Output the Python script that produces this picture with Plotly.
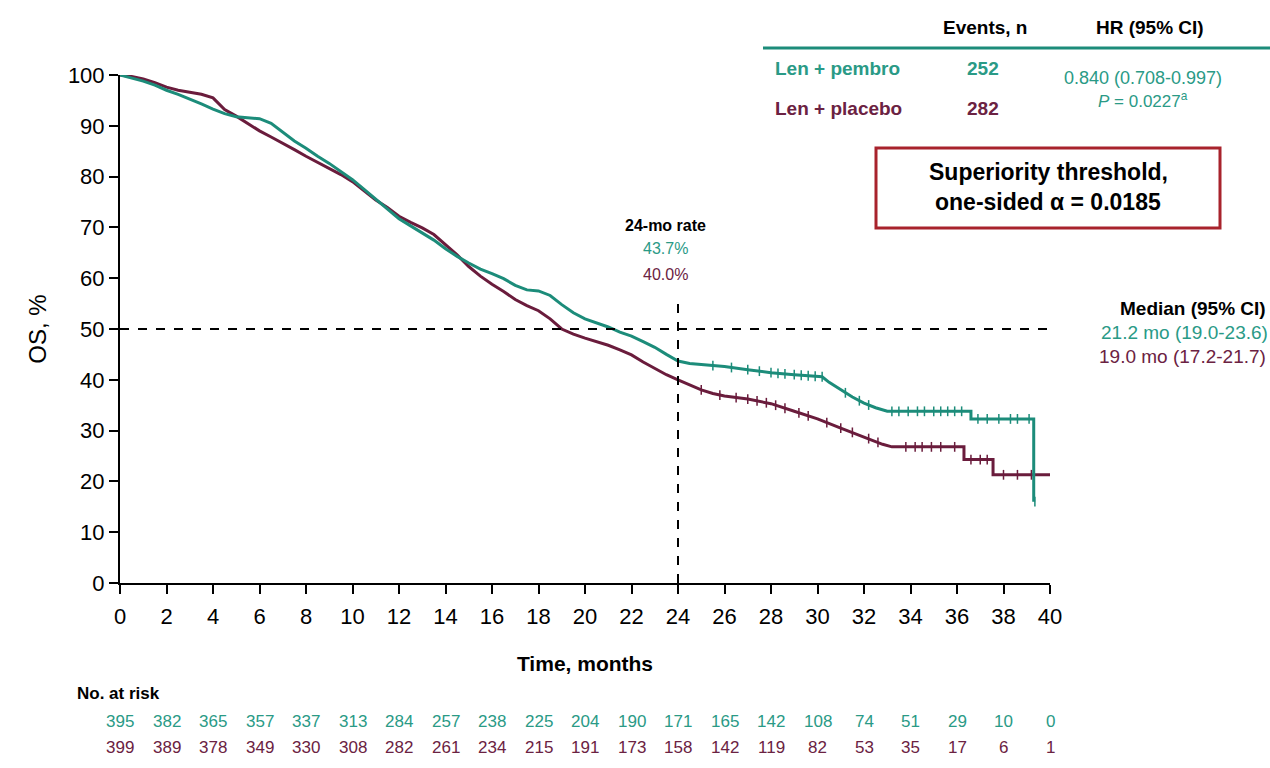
import numpy as np
import plotly.graph_objects as go

# ---------------- data ----------------
months_ticks = list(range(0, 41, 2))

# Len + pembro KM curve (time in months, OS %)
pembro_t = [0, 0.5, 1, 1.5, 2, 2.5, 3, 3.5, 4, 4.5, 5, 5.5, 6, 6.5, 7, 7.5, 8, 8.5, 9, 9.5,
            10, 10.5, 11, 11.5, 12, 12.5, 13, 13.5, 14, 14.5, 15, 15.5, 16, 16.5, 17, 17.5,
            18, 18.5, 19, 19.5, 20, 20.5, 21, 21.5, 22, 22.5, 23, 23.5, 24, 24.5, 25, 26,
            27, 28, 29, 30.2, 30.5, 31, 31.5, 32, 32.5, 33, 36.6, 36.6, 39.3, 39.3]
pembro_s = [100, 99.4, 98.8, 98.0, 97.0, 96.2, 95.3, 94.3, 93.3, 92.4, 91.8, 91.6, 91.4, 90.5,
            88.8, 87.0, 85.6, 84.0, 82.6, 81.0, 79.4, 77.5, 75.6, 73.6, 71.7, 70.3, 68.9, 67.5,
            65.8, 64.3, 63.0, 61.8, 60.9, 59.9, 58.6, 57.7, 57.5, 56.6, 54.8, 53.2, 52.0, 51.2,
            50.4, 49.4, 48.6, 47.5, 46.4, 45.0, 43.7, 43.2, 43.0, 42.6, 42.0, 41.4, 41.0, 40.6,
            39.5, 38.0, 36.6, 35.4, 34.5, 33.8, 33.8, 32.3, 32.3, 16.0]

# Len + placebo KM curve
placebo_t = [0, 0.5, 1, 1.5, 2, 2.5, 3, 3.5, 4, 4.5, 5, 5.5, 6, 6.5, 7, 7.5, 8, 8.5, 9, 9.5,
             10, 10.5, 11, 11.5, 12, 12.5, 13, 13.5, 14, 14.5, 15, 15.5, 16, 16.5, 17, 17.5,
             18, 18.5, 19, 19.5, 20, 20.5, 21, 21.5, 22, 22.5, 23, 23.5, 24, 24.5, 25, 25.5,
             26, 27, 28, 29, 30, 31, 32, 32.8, 33.2, 36.3, 36.3, 37.55, 37.55, 40.1]
placebo_s = [100, 99.7, 99.2, 98.5, 97.6, 97.0, 96.6, 96.2, 95.5, 93.2, 91.9, 90.5, 89.0, 87.8,
             86.6, 85.3, 84.0, 82.8, 81.6, 80.4, 79.0, 77.2, 75.4, 73.9, 72.2, 71.0, 69.9, 68.6,
             66.6, 64.6, 62.3, 60.4, 58.8, 57.4, 55.8, 54.6, 53.6, 52.0, 50.0, 49.0, 48.2, 47.5,
             46.8, 45.9, 44.9, 43.5, 42.2, 41.0, 40.0, 39.0, 38.0, 37.3, 36.8, 36.2, 35.3, 33.8,
             32.3, 30.5, 28.8, 27.3, 26.8, 26.8, 24.3, 24.3, 21.3, 21.3]

# censoring times
pembro_censor = [25.5, 26.3, 27, 27.5, 28, 28.3, 28.6, 29, 29.3, 29.6, 29.9, 30.2, 31.2, 31.8,
                 32.2, 33.2, 33.5, 33.9, 34.3, 34.6, 35, 35.3, 35.6, 35.9, 36.2, 36.9, 37.3,
                 37.8, 38.3, 38.6, 39.1, 39.35]
placebo_censor = [25, 25.8, 26.5, 27, 27.4, 27.8, 28.2, 28.6, 29.2, 29.6, 30.4, 31, 31.5, 32.2,
                  32.6, 33.8, 34.2, 34.5, 34.9, 35.3, 35.9, 36.6, 37, 37.3, 38, 38.6, 39.2, 40.1]

pembro_risk = [395, 382, 365, 357, 337, 313, 284, 257, 238, 225, 204, 190, 171, 165, 142, 108,
               74, 51, 29, 10, 0]
placebo_risk = [399, 389, 378, 349, 330, 308, 282, 261, 234, 215, 191, 173, 158, 142, 119, 82,
                53, 35, 17, 6, 1]

TEAL = "#1c8c7a"
MAROON = "#6a1c3c"
TEAL_TXT = "#2a9a86"
MAROON_TXT = "#6b2242"
FONT = "Liberation Sans, Arial, sans-serif"

# ---------------- layout geometry (pixels) ----------------
W, H = 1270, 768
L, R_PX, T, B_PX = 120, 1050, 75, 583


def px(xp):
    return (xp - L) / (R_PX - L)


def py(yp):
    return (B_PX - yp) / (B_PX - T)


def curve_at(ts, ss, c):
    ts = np.asarray(ts, dtype=float)
    ss = np.asarray(ss, dtype=float)
    # value at/after time c (right-continuous at vertical drops)
    idx = np.where(ts <= c)[0]
    i = idx[-1]
    if i + 1 < len(ts) and ts[i] == c:
        return float(ss[i])
    if i + 1 < len(ts):
        return float(np.interp(c, ts[i:i + 2], ss[i:i + 2]))
    return float(ss[i])


fig = go.Figure()

for ts, ss, col, cens in [(placebo_t, placebo_s, MAROON, placebo_censor),
                          (pembro_t, pembro_s, TEAL, pembro_censor)]:
    fig.add_trace(go.Scatter(x=ts, y=ss, mode="lines", line=dict(color=col, width=3),
                             cliponaxis=False, showlegend=False, hoverinfo="skip"))
    cy = [curve_at(ts, ss, c) for c in cens]
    fig.add_trace(go.Scatter(x=cens, y=cy, mode="markers",
                             marker=dict(symbol="line-ns", size=7, line=dict(color=col, width=1.5)),
                             cliponaxis=False, showlegend=False, hoverinfo="skip"))

# dashed reference lines
fig.add_shape(type="line", xref="x", yref="y", x0=0, x1=40.2, y0=50, y1=50,
              line=dict(color="black", width=2, dash="dash"))
fig.add_shape(type="line", xref="x", yref="y", x0=24, x1=24, y0=0, y1=56,
              line=dict(color="black", width=2, dash="dash"))

# table rule
fig.add_shape(type="line", xref="paper", yref="paper", x0=px(763), x1=px(1270), y0=py(48), y1=py(48),
              line=dict(color=TEAL, width=3))
# superiority box
fig.add_shape(type="rect", xref="paper", yref="paper", x0=px(876), x1=px(1220), y0=py(228), y1=py(148),
              line=dict(color="#a8232c", width=3), fillcolor="white")

ann = []


def A(text, xp, yp, size, color="black", bold=False, anchor="center", xref="paper", xv=None):
    t = f"<b>{text}</b>" if bold else text
    ann.append(dict(text=t, x=(xv if xv is not None else px(xp)), y=py(yp), xref=xref, yref="paper",
                    xanchor=anchor, yanchor="middle", showarrow=False,
                    font=dict(family=FONT, size=size, color=color)))


# table
A("Events, n", 985, 28, 19, bold=True)
A("HR (95% CI)", 1150, 28, 19, bold=True)
A("Len + pembro", 773, 68, 19, TEAL_TXT, bold=True, anchor="left")
A("252", 983, 68, 19, TEAL_TXT, bold=True)
A("Len + placebo", 773, 108, 19, MAROON_TXT, bold=True, anchor="left")
A("282", 983, 108, 19, MAROON_TXT, bold=True)
A("0.840 (0.708-0.997)", 1143, 78, 18, TEAL_TXT)
A("<i>P</i> = 0.0227<sup>a</sup>", 1143, 100, 17, TEAL_TXT)

# superiority box text
A("Superiority threshold,", 1048, 172, 23, bold=True)
A("one-sided α = 0.0185", 1048, 202, 23, bold=True)

# 24-month rate
A("24-mo rate", 665, 225, 16, bold=True)
A("43.7%", 665, 249, 16, TEAL_TXT)
A("40.0%", 665, 274, 16, MAROON_TXT)

# median
A("Median (95% CI)", 1268, 308, 19, bold=True, anchor="right")
A("21.2 mo (19.0-23.6)", 1270, 332, 19, TEAL_TXT, anchor="right")
A("19.0 mo (17.2-21.7)", 1268, 356, 19, MAROON_TXT, anchor="right")

# at risk
A("No. at risk", 75, 693, 17, bold=True, anchor="left")
for t, n in zip(months_ticks, pembro_risk):
    A(str(n), 0, 721, 17, TEAL_TXT, xref="x", xv=t)
for t, n in zip(months_ticks, placebo_risk):
    A(str(n), 0, 748, 17, MAROON_TXT, xref="x", xv=t)

fig.update_layout(
    width=W, height=H,
    margin=dict(l=L, r=W - R_PX, t=T, b=H - B_PX, pad=0),
    paper_bgcolor="white", plot_bgcolor="white",
    annotations=ann,
    font=dict(family=FONT, color="black"),
    xaxis=dict(range=[0, 40], tickvals=months_ticks, ticks="outside", ticklen=9, tickwidth=2,
               tickcolor="black", showline=True, linecolor="black", linewidth=2, showgrid=False,
               zeroline=False, tickfont=dict(size=22, family=FONT), ticklabelstandoff=4,
               title=dict(text="<b>Time, months</b>", font=dict(size=21, family=FONT), standoff=28)),
    yaxis=dict(range=[0, 100], tickvals=list(range(0, 101, 10)), ticks="outside", ticklen=9,
               tickwidth=2, tickcolor="black", showline=True, linecolor="black", linewidth=2,
               showgrid=False, zeroline=False, tickfont=dict(size=22, family=FONT),
               title=dict(text="OS, %", font=dict(size=24, family=FONT), standoff=14)),
)

fig.write_html("out.html")
